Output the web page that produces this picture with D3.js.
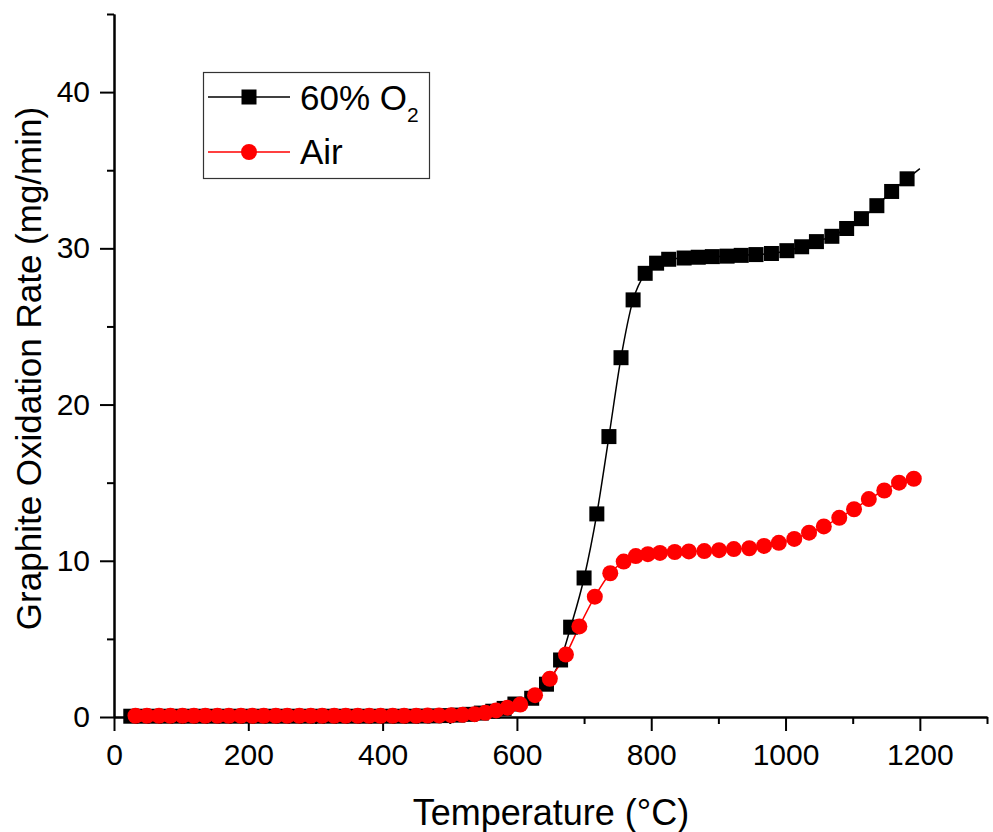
<!DOCTYPE html>
<html>
<head>
<meta charset="utf-8">
<title>Graphite Oxidation Rate</title>
<script src="https://d3js.org/d3.v7.min.js"></script>
<style>
  body { margin: 0; background: #fff; }
  text { font-family: "Liberation Sans", Arial, sans-serif; fill: #000; }
</style>
</head>
<body>
<svg width="993" height="832"></svg>
<script>
// ---- data ----
const o2Temp = [
   25,  42,  60,  77,  95, 112, 129, 147, 164, 182,
  199, 216, 234, 251, 269, 286, 303, 321, 338, 356,
  373, 390, 408, 425, 443, 460, 477, 495, 512, 530,
  547, 564, 581, 597, 622, 644, 665, 680, 700, 719,
  737, 755, 773, 791, 808, 826, 849, 870, 891, 913,
  934, 956, 979, 1002, 1024, 1046, 1069, 1091, 1113, 1136,
  1158, 1181
];
const o2Rate = [
  0.05, 0.05, 0.05, 0.05, 0.05, 0.05, 0.05, 0.05, 0.05, 0.05,
  0.05, 0.05, 0.05, 0.05, 0.05, 0.05, 0.05, 0.05, 0.05, 0.05,
  0.05, 0.05, 0.05, 0.05, 0.05, 0.06, 0.07, 0.09, 0.12, 0.17,
  0.25, 0.37, 0.55, 0.83, 1.2, 2.1, 3.65, 5.75, 8.9, 13.0,
  17.95, 23.0, 26.7, 28.4, 29.05, 29.3, 29.38, 29.43, 29.47, 29.5,
  29.55, 29.6, 29.67, 29.85, 30.1, 30.43, 30.77, 31.27, 31.9, 32.73,
  33.64, 34.45
];
// end of the fitted curve past the last marker
const o2FitEnd = { t: 1200, r: 35.1 };

const airTemp = [
   32,  49,  67,  84, 102, 119, 136, 154, 171, 189,
  206, 223, 241, 258, 276, 293, 310, 328, 345, 363,
  380, 397, 415, 432, 450, 467, 484, 502, 519, 537,
  553, 569, 586, 605, 627, 649, 673, 693, 716, 739,
  759, 777, 795, 813, 835, 856, 879, 901, 923, 946,
  968, 990, 1013, 1035, 1057, 1080, 1102, 1124, 1147, 1169,
  1191
];
const airRate = [
  0.08, 0.08, 0.08, 0.08, 0.08, 0.08, 0.08, 0.08, 0.08, 0.08,
  0.08, 0.08, 0.08, 0.08, 0.08, 0.08, 0.08, 0.08, 0.08, 0.08,
  0.08, 0.08, 0.08, 0.08, 0.08, 0.09, 0.1, 0.12, 0.14, 0.18,
  0.27, 0.42, 0.6, 0.8, 1.4, 2.45, 4.0, 5.8, 7.7, 9.2,
  9.95, 10.3, 10.42, 10.5, 10.56, 10.6, 10.62, 10.68, 10.75, 10.8,
  10.95, 11.15, 11.4, 11.8, 12.2, 12.75, 13.3, 13.95, 14.5, 15.0,
  15.25
];

const xMajor = [0, 200, 400, 600, 800, 1000, 1200];
const xMinor = [100, 300, 500, 700, 900, 1100, 1300];
const yMajor = [0, 10, 20, 30, 40];
const yMinor = [5, 15, 25, 35, 45];

const seriesNames = ["60% O", "Air"];

// ---- layout ----
const svg = d3.select("svg");
const m = { left: 114, right: 987, top: 14, bottom: 717 };

const x = d3.scaleLinear().domain([0, 1300]).range([m.left, m.right]);
const y = d3.scaleLinear().domain([0, 45]).range([m.bottom, m.top]);

const o2 = o2Temp.map((t, i) => ({ t: t, r: o2Rate[i] }));
const air = airTemp.map((t, i) => ({ t: t, r: airRate[i] }));

// axes
function styleAxis(g) {
  g.attr("font-family", null).attr("font-size", null);
  g.selectAll("path, line").attr("stroke", "#000").attr("stroke-width", 2);
  g.selectAll("text").attr("font-size", 30);
}

svg.append("g")
  .attr("transform", `translate(0,${m.bottom})`)
  .call(d3.axisBottom(x).tickValues(xMinor).tickSize(7).tickSizeOuter(0).tickFormat(""))
  .call(styleAxis);
svg.append("g")
  .attr("transform", `translate(0,${m.bottom})`)
  .call(d3.axisBottom(x).tickValues(xMajor).tickSize(14).tickSizeOuter(0).tickPadding(13).tickFormat(d3.format("d")))
  .call(styleAxis);

svg.append("g")
  .attr("transform", `translate(${m.left},0)`)
  .call(d3.axisLeft(y).tickValues(yMinor).tickSize(7).tickSizeOuter(0).tickFormat(""))
  .call(styleAxis);
svg.append("g")
  .attr("transform", `translate(${m.left},0)`)
  .call(d3.axisLeft(y).tickValues(yMajor).tickSize(14).tickSizeOuter(0).tickPadding(10).tickFormat(d3.format("d")))
  .call(styleAxis);

// axis titles
svg.append("text")
  .attr("x", 551)
  .attr("y", 825)
  .attr("text-anchor", "middle")
  .attr("font-size", 36)
  .text("Temperature (\u00B0C)");

svg.append("text")
  .attr("transform", `translate(41,${(m.top + m.bottom) / 2 + 3}) rotate(-90)`)
  .attr("text-anchor", "middle")
  .attr("font-size", 35)
  .text("Graphite Oxidation Rate (mg/min)");

// lines
const line = d3.line().x(d => x(d.t)).y(d => y(d.r)).curve(d3.curveMonotoneX);

svg.append("path")
  .datum(o2.concat([o2FitEnd]))
  .attr("d", line)
  .attr("fill", "none")
  .attr("stroke", "#000")
  .attr("stroke-width", 1.5);

svg.append("path")
  .datum(air)
  .attr("d", line)
  .attr("fill", "none")
  .attr("stroke", "#ff0000")
  .attr("stroke-width", 1.5);

// markers
const sq = 15;
svg.append("g").selectAll("rect")
  .data(o2)
  .join("rect")
  .attr("x", d => x(d.t) - sq / 2)
  .attr("y", d => y(d.r) - sq / 2)
  .attr("width", sq)
  .attr("height", sq)
  .attr("fill", "#000");

svg.append("g").selectAll("circle")
  .data(air)
  .join("circle")
  .attr("cx", d => x(d.t))
  .attr("cy", d => y(d.r))
  .attr("r", 8)
  .attr("fill", "#ff0000");

// legend
const leg = svg.append("g");
leg.append("rect")
  .attr("x", 203.5).attr("y", 72.5)
  .attr("width", 226).attr("height", 106)
  .attr("fill", "#fff")
  .attr("stroke", "#333")
  .attr("stroke-width", 1.2);

leg.append("line").attr("x1", 208).attr("x2", 290).attr("y1", 97).attr("y2", 97)
  .attr("stroke", "#000").attr("stroke-width", 1.5);
leg.append("rect").attr("x", 249 - sq / 2).attr("y", 97 - sq / 2)
  .attr("width", sq).attr("height", sq).attr("fill", "#000");
const t1 = leg.append("text").attr("x", 300).attr("y", 110).attr("font-size", 35);
t1.append("tspan").text(seriesNames[0]);
t1.append("tspan").attr("font-size", 21).attr("dy", 12).text("2");

leg.append("line").attr("x1", 208).attr("x2", 290).attr("y1", 152).attr("y2", 152)
  .attr("stroke", "#ff0000").attr("stroke-width", 1.5);
leg.append("circle").attr("cx", 249).attr("cy", 152).attr("r", 8).attr("fill", "#ff0000");
leg.append("text").attr("x", 300).attr("y", 164).attr("font-size", 35).text(seriesNames[1]);
</script>
</body>
</html>
